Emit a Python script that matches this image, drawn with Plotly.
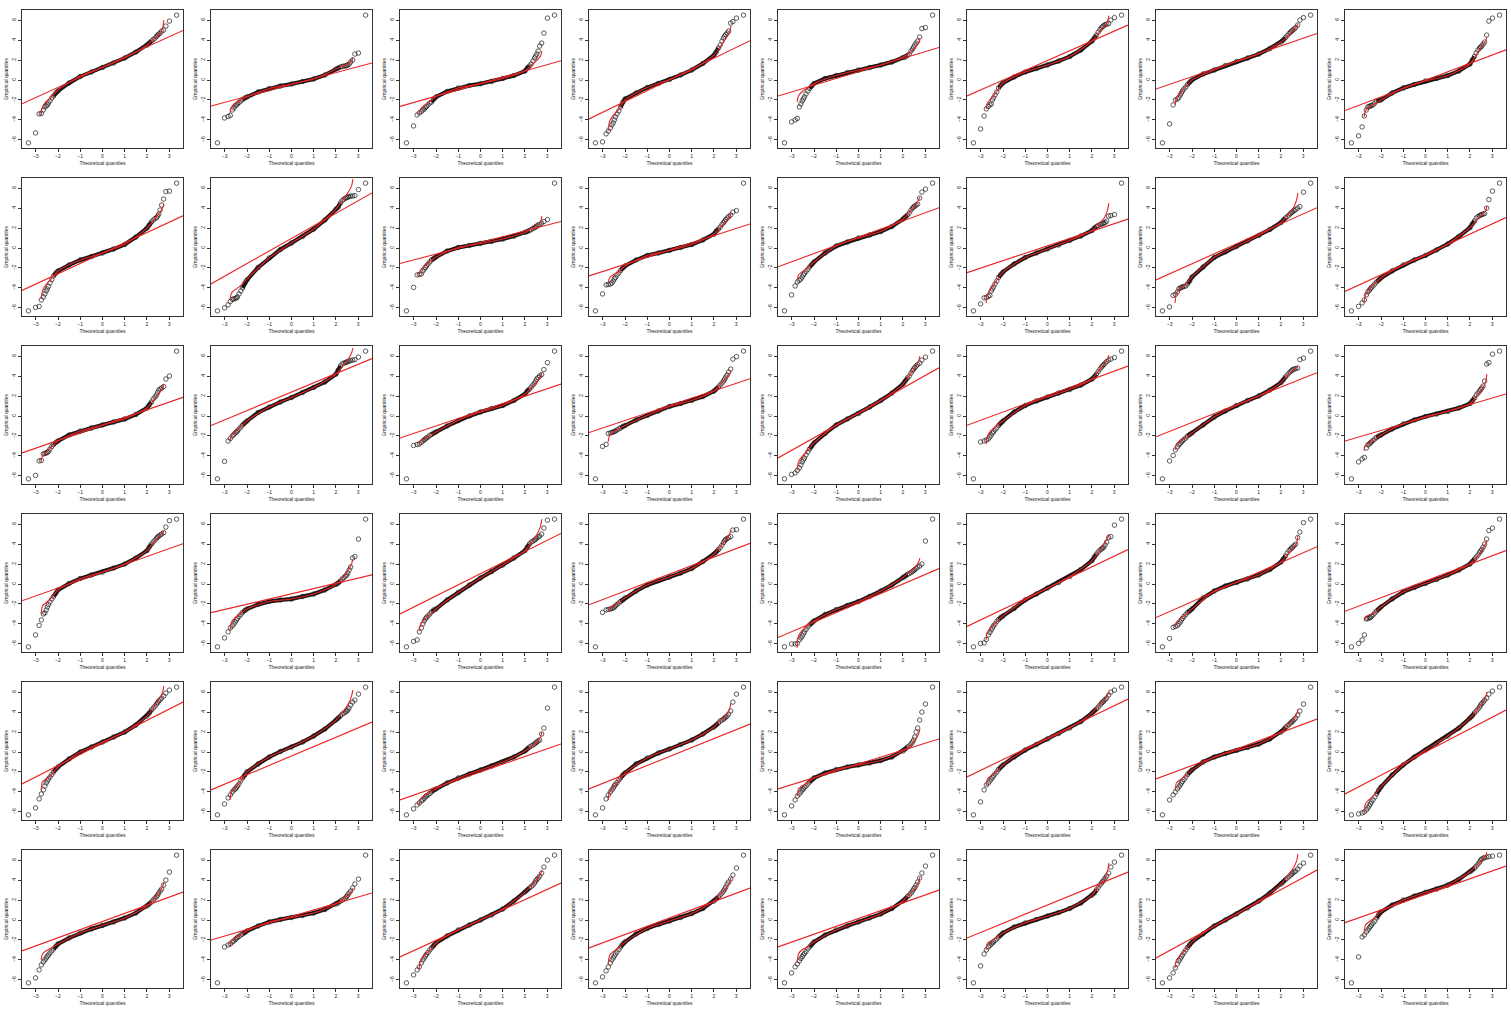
import plotly.graph_objects as go

# Theoretical normal quantiles shared by every panel (tails, body, tails)
theo_q = [-3.33, -3.01, -2.85, -2.75, -2.66, -2.59, -2.53, -2.48, -2.43, -2.36, -2.28, -2.2, -2.1,
          -2.0, -1.5, -1.0, -0.5, 0.0, 0.5, 1.0, 1.5, 2.0,
          2.1, 2.2, 2.28, 2.36, 2.43, 2.48, 2.53, 2.59, 2.66, 2.75, 2.85, 3.01, 3.33]
# abscissae of the fitted-distribution quantile curve
fit_q = [-2.76, -2.7, -2.55, -2.3, -2.0, -1.0, 0.0, 1.0, 2.0, 2.3, 2.55, 2.7, 2.76]
# abscissae of the reference (qqline) end points
ref_q = [-3.62, 3.62]
x_ticks = [-3, -2, -1, 0, 1, 2, 3]

s01_q = [-6.3,-5.3,-3.4,-3.35,-3.0,-2.7,-2.6,-2.5,-2.3,-2.1,-1.8,-1.6,-1.3, -1.1,-0.3,0.35,0.8,1.25,1.7,2.2,2.8,3.5, 3.7,3.9,4.05,4.2,4.35,4.5,4.6,4.7,4.9,5.0,5.4,5.9,6.5]
s01_fit = [-3.5,-2.7,-2.2,-1.7,-1.0,0.4,1.25,2.2,3.5,4.1,4.6,5.2,6.0]
s01_ref = [-2.38, 4.96]
s02_q = [-6.3,-3.8,-3.65,-3.55,-3.0,-2.8,-2.6,-2.5,-2.4,-2.25,-2.1,-1.95,-1.8, -1.7,-1.2,-0.85,-0.6,-0.4,-0.15,0.1,0.5,1.1, 1.2,1.3,1.35,1.4,1.4,1.45,1.5,1.6,1.8,2.0,2.6,2.7,6.5]
s02_fit = [-3.3,-2.7,-2.35,-2.05,-1.7,-0.85,-0.4,0.1,1.1,1.4,1.6,1.9,2.3]
s02_ref = [-2.6, 1.7]
s03_q = [-6.3,-4.6,-3.5,-3.3,-3.15,-3.0,-2.9,-2.75,-2.65,-2.5,-2.3,-2.2,-1.9, -1.7,-1.15,-0.8,-0.55,-0.37,-0.15,0.15,0.45,0.9, 1.2,1.4,1.6,1.9,2.2,2.4,2.6,2.9,3.4,3.7,4.7,6.2,6.5]
s03_fit = [-3.4,-2.9,-2.6,-2.2,-1.65,-0.8,-0.37,0.15,0.9,1.5,2.0,2.4,2.9]
s03_ref = [-2.64, 1.93]
s04_q = [-6.3,-6.2,-5.4,-5.1,-4.8,-4.5,-4.3,-4.0,-3.7,-3.4,-3.1,-2.7,-2.2, -1.9,-1.3,-0.75,-0.35,0.05,0.5,1.0,1.65,2.5, 2.8,3.2,3.5,3.9,4.2,4.4,4.55,4.7,4.9,5.7,5.85,6.2,6.5]
s04_fit = [-5.1,-4.2,-3.6,-3.0,-2.0,-0.75,0.05,1.0,2.5,3.4,4.2,4.8,5.4]
s04_ref = [-3.9, 3.94]
s05_q = [-6.3,-4.2,-4.0,-3.85,-2.7,-2.4,-2.1,-1.9,-1.7,-1.4,-1.1,-0.85,-0.6, -0.35,0.15,0.45,0.75,1.0,1.25,1.5,1.8,2.25, 2.3,2.45,2.6,2.9,3.1,3.3,3.5,3.7,3.9,4.3,5.15,5.25,6.5]
s05_fit = [-2.2,-1.6,-1.2,-0.8,-0.35,0.45,1.0,1.5,2.3,2.7,3.3,3.7,4.2]
s05_ref = [-1.6, 3.25]
s06_q = [-6.3,-4.9,-3.6,-2.9,-2.65,-2.5,-2.4,-2.0,-1.8,-1.5,-1.2,-0.8,-0.5, -0.3,0.3,0.8,1.15,1.5,1.9,2.35,3.0,3.9, 4.2,4.5,4.8,5.05,5.25,5.35,5.45,5.55,5.6,5.65,6.0,6.25,6.5]
s06_fit = [-2.9,-2.3,-1.9,-1.2,-0.3,0.8,1.5,2.35,3.9,4.7,5.35,5.9,6.45]
s06_ref = [-1.6, 5.5]
s07_q = [-6.3,-4.4,-2.5,-2.0,-1.9,-1.75,-1.5,-1.3,-1.1,-0.9,-0.7,-0.45,-0.2, 0.0,0.6,1.0,1.45,1.85,2.2,2.6,3.15,3.8, 4.0,4.25,4.45,4.65,4.8,4.9,5.0,5.1,5.25,5.5,6.0,6.25,6.5]
s07_fit = [-2.5,-1.8,-1.4,-0.7,0.0,1.0,1.85,2.6,3.8,4.4,5.0,5.4,5.6]
s07_ref = [-0.9, 4.66]
s08_q = [-6.3,-5.6,-4.7,-3.6,-3.0,-2.7,-2.65,-2.6,-2.55,-2.5,-2.3,-2.1,-2.05, -2.0,-1.3,-0.8,-0.45,-0.1,0.15,0.45,0.9,1.6, 2.0,2.35,2.7,3.0,3.2,3.3,3.4,3.6,3.8,4.5,5.9,6.2,6.5]
s08_fit = [-3.7,-3.1,-2.7,-2.4,-2.0,-0.8,-0.1,0.45,1.6,2.6,3.4,3.9,4.3]
s08_ref = [-3.06, 3.02]

s09_q = [-6.3,-5.95,-5.85,-5.2,-4.9,-4.6,-4.3,-4.1,-3.85,-3.5,-3.15,-2.8,-2.5, -2.3,-1.7,-1.2,-0.85,-0.5,-0.1,0.35,1.1,2.0, 2.3,2.6,2.8,2.95,3.05,3.2,3.4,3.8,4.3,4.9,5.65,5.7,6.5]
s09_fit = [-5.1,-4.3,-3.7,-3.1,-2.3,-1.2,-0.5,0.35,2.0,2.8,3.5,4.0,4.4]
s09_ref = [-4.25, 3.22]
s10_q = [-6.3,-6.0,-5.7,-5.35,-5.15,-5.1,-5.05,-5.0,-4.9,-4.6,-4.3,-4.0,-3.5, -3.2,-1.95,-1.0,-0.15,0.5,1.15,1.9,2.8,3.9, 4.1,4.5,4.75,4.9,5.0,5.05,5.1,5.15,5.2,5.2,5.25,5.85,6.5]
s10_fit = [-5.2,-4.5,-4.2,-3.8,-3.1,-1.0,0.5,1.9,3.9,4.8,5.6,6.2,6.9]
s10_ref = [-3.6, 5.52]
s11_q = [-6.3,-3.95,-2.7,-2.65,-2.6,-2.3,-2.1,-1.95,-1.8,-1.6,-1.4,-1.2,-1.05, -0.9,-0.3,0.05,0.25,0.45,0.65,0.9,1.2,1.55, 1.65,1.75,1.85,1.95,2.05,2.1,2.2,2.3,2.35,2.5,2.65,2.85,6.5]
s11_fit = [-2.8,-2.2,-1.85,-1.4,-0.9,0.05,0.45,0.9,1.55,1.9,2.2,2.6,3.2]
s11_ref = [-1.55, 2.66]
s12_q = [-6.3,-4.6,-3.7,-3.65,-3.6,-3.5,-3.3,-3.1,-2.95,-2.7,-2.5,-2.25,-2.0, -1.8,-1.2,-0.75,-0.5,-0.25,0.05,0.35,0.8,1.4, 1.7,1.9,2.1,2.35,2.55,2.7,2.85,3.0,3.15,3.3,3.6,3.75,6.5]
s12_fit = [-3.5,-3.0,-2.7,-2.4,-1.8,-0.75,-0.25,0.35,1.4,2.1,2.7,3.1,3.5]
s12_ref = [-2.8, 2.4]
s13_q = [-6.3,-4.7,-3.8,-3.4,-3.25,-3.1,-2.9,-2.7,-2.55,-2.35,-2.15,-1.9,-1.65, -1.4,-0.5,0.2,0.6,1.0,1.3,1.65,2.15,2.9, 3.1,3.3,3.5,3.8,4.0,4.1,4.2,4.3,4.4,5.0,5.6,5.9,6.5]
s13_fit = [-3.2,-2.7,-2.4,-2.0,-1.4,0.2,1.0,1.65,2.9,3.6,4.3,4.8,5.1]
s13_ref = [-1.88, 4.04]
s14_q = [-6.3,-5.6,-5.0,-4.95,-4.85,-4.75,-4.3,-4.1,-3.9,-3.6,-3.3,-2.95,-2.65, -2.4,-1.6,-0.95,-0.5,-0.1,0.3,0.75,1.2,1.75, 2.0,2.15,2.25,2.35,2.4,2.45,2.5,2.55,2.7,3.2,3.25,3.35,6.5]
s14_fit = [-5.5,-4.6,-4.1,-3.3,-2.4,-0.95,-0.1,0.75,1.75,2.4,3.0,3.8,4.5]
s14_ref = [-2.47, 2.9]
s15_q = [-6.3,-5.9,-4.75,-4.65,-4.4,-4.1,-4.0,-3.95,-3.9,-3.85,-3.8,-3.6,-3.3, -2.9,-1.9,-0.95,-0.4,0.15,0.7,1.25,1.85,2.55, 2.8,3.0,3.15,3.3,3.45,3.55,3.65,3.75,3.85,4.0,4.15,5.6,6.5]
s15_fit = [-5.5,-4.5,-4.1,-3.7,-2.9,-0.95,0.15,1.25,2.55,3.3,4.0,4.8,5.5]
s15_ref = [-3.2, 4.04]
s16_q = [-6.3,-5.85,-5.5,-5.2,-4.7,-4.4,-4.25,-4.1,-3.95,-3.8,-3.6,-3.4,-3.2, -3.0,-2.3,-1.7,-1.2,-0.75,-0.2,0.4,1.15,2.05, 2.4,2.7,3.0,3.15,3.25,3.3,3.35,3.4,3.45,4.0,4.85,5.7,6.5]
s16_fit = [-5.5,-4.7,-4.2,-3.6,-3.0,-1.7,-0.75,0.4,2.05,2.8,3.4,3.7,4.2]
s16_ref = [-4.35, 3.05]

s17_q = [-6.3,-5.95,-4.5,-4.45,-3.8,-3.75,-3.7,-3.65,-3.55,-3.3,-3.05,-2.85,-2.65, -2.5,-1.9,-1.5,-1.2,-0.9,-0.6,-0.3,0.15,0.8, 1.1,1.4,1.7,1.9,2.1,2.35,2.6,2.7,2.8,2.95,3.7,4.0,6.5]
s17_fit = [-4.5,-4.0,-3.7,-3.1,-2.5,-1.5,-0.9,-0.3,0.8,1.6,2.3,2.8,3.2]
s17_ref = [-3.7, 1.87]
s18_q = [-6.3,-4.55,-2.5,-2.25,-2.0,-1.85,-1.7,-1.6,-1.5,-1.3,-1.1,-0.9,-0.7, -0.5,0.35,0.9,1.4,1.85,2.35,2.85,3.4,4.2, 4.6,5.0,5.2,5.3,5.35,5.4,5.45,5.5,5.55,5.6,5.65,5.9,6.5]
s18_fit = [-2.5,-1.9,-1.6,-1.1,-0.5,0.9,1.85,2.85,4.2,5.0,5.7,6.3,6.8]
s18_ref = [-0.96, 5.75]
s19_q = [-6.3,-2.95,-2.85,-2.8,-2.65,-2.5,-2.4,-2.3,-2.2,-2.1,-1.95,-1.85,-1.7, -1.6,-1.0,-0.45,0.0,0.4,0.75,1.05,1.55,2.2, 2.5,2.7,2.9,3.1,3.3,3.5,3.7,3.85,4.0,4.15,4.65,5.35,6.5]
s19_fit = [-2.9,-2.5,-2.3,-2.0,-1.6,-0.45,0.4,1.05,2.2,2.9,3.5,4.0,4.3]
s19_ref = [-2.2, 3.2]
s20_q = [-6.3,-3.05,-2.85,-1.75,-1.7,-1.65,-1.6,-1.55,-1.5,-1.4,-1.3,-1.2,-1.05, -0.95,-0.4,0.05,0.5,0.95,1.25,1.55,1.95,2.5, 2.7,2.9,3.1,3.3,3.5,3.7,3.9,4.1,4.4,4.7,5.7,5.95,6.5]
s20_fit = [-2.6,-2.0,-1.7,-1.3,-0.95,0.05,0.95,1.55,2.5,3.2,3.8,4.2,4.5]
s20_ref = [-1.65, 3.74]
s21_q = [-6.3,-5.85,-5.7,-5.45,-5.2,-4.9,-4.6,-4.4,-4.2,-3.9,-3.6,-3.3,-3.0, -2.7,-1.75,-0.9,-0.3,0.25,0.9,1.55,2.3,3.2, 3.5,3.8,4.0,4.3,4.55,4.7,4.85,5.0,5.15,5.3,5.6,5.9,6.5]
s21_fit = [-5.4,-4.6,-4.1,-3.5,-2.7,-0.9,0.25,1.55,3.2,4.1,4.9,5.5,6.0]
s21_ref = [-4.2, 4.83]
s22_q = [-6.3,-2.6,-2.5,-2.4,-2.3,-2.1,-1.9,-1.7,-1.6,-1.4,-1.2,-0.95,-0.7, -0.5,0.4,1.05,1.5,1.9,2.3,2.65,3.1,3.7, 3.9,4.2,4.45,4.7,4.9,5.05,5.15,5.3,5.45,5.6,5.7,5.85,6.5]
s22_fit = [-2.8,-2.0,-1.5,-1.0,-0.5,1.05,1.9,2.65,3.7,4.5,5.2,5.7,6.1]
s22_ref = [-0.93, 5.0]
s23_q = [-6.3,-4.5,-3.95,-3.4,-3.1,-2.9,-2.75,-2.6,-2.5,-2.35,-2.2,-2.0,-1.85, -1.7,-0.9,-0.1,0.5,1.05,1.55,2.0,2.6,3.35, 3.6,3.9,4.1,4.3,4.45,4.55,4.65,4.7,4.75,4.8,5.65,5.8,6.5]
s23_fit = [-3.4,-2.8,-2.5,-2.2,-1.7,-0.1,1.05,2.0,3.35,4.1,4.6,4.9,5.0]
s23_ref = [-2.08, 4.34]
s24_q = [-6.3,-4.6,-4.3,-4.15,-3.2,-2.9,-2.8,-2.7,-2.6,-2.45,-2.3,-2.15,-2.0, -1.9,-1.3,-0.8,-0.4,-0.05,0.2,0.45,0.8,1.25, 1.5,1.8,2.1,2.3,2.5,2.65,2.8,3.0,3.5,5.2,5.35,6.2,6.5]
s24_fit = [-3.5,-2.9,-2.7,-2.4,-1.9,-0.8,-0.05,0.45,1.25,2.0,2.7,3.4,4.2]
s24_ref = [-2.5, 2.2]

s25_q = [-6.3,-5.1,-4.15,-3.6,-3.0,-2.9,-2.6,-2.3,-2.05,-1.8,-1.5,-1.25,-0.95, -0.6,0.05,0.55,0.9,1.2,1.6,2.0,2.6,3.35, 3.7,4.0,4.2,4.4,4.6,4.7,4.8,4.9,5.0,5.15,5.7,6.35,6.5]
s25_fit = [-3.0,-2.2,-1.9,-1.4,-0.6,0.55,1.2,2.0,3.35,4.2,4.8,5.1,5.3]
s25_ref = [-1.68, 4.04]
s26_q = [-6.3,-5.4,-4.8,-4.4,-4.2,-4.0,-3.8,-3.6,-3.45,-3.25,-3.05,-2.85,-2.65, -2.5,-2.05,-1.75,-1.6,-1.5,-1.25,-1.0,-0.6,-0.05, 0.1,0.3,0.5,0.65,0.8,0.9,1.1,1.4,1.7,2.6,2.75,4.5,6.5]
s26_fit = [-4.6,-3.8,-3.4,-3.0,-2.5,-1.75,-1.5,-1.0,-0.05,0.6,1.4,2.0,2.5]
s26_ref = [-2.87, 0.91]
s27_q = [-6.3,-5.75,-5.6,-4.8,-4.4,-4.0,-3.7,-3.5,-3.35,-3.2,-3.0,-2.8,-2.6, -2.5,-1.6,-0.85,-0.1,0.6,1.25,1.9,2.6,3.35, 3.7,4.0,4.2,4.3,4.4,4.5,4.6,4.7,4.8,5.0,5.6,6.4,6.5]
s27_fit = [-4.7,-4.1,-3.6,-3.1,-2.5,-0.85,0.6,1.9,3.35,4.2,5.0,5.8,6.5]
s27_ref = [-3.0, 5.06]
s28_q = [-6.3,-2.85,-2.6,-2.55,-2.5,-2.45,-2.4,-2.3,-2.2,-2.05,-1.9,-1.75,-1.6, -1.4,-0.7,-0.1,0.35,0.7,1.1,1.55,2.25,3.0, 3.2,3.45,3.65,3.9,4.15,4.35,4.45,4.55,4.65,4.75,5.4,5.45,6.5]
s28_fit = [-2.8,-2.4,-2.25,-1.9,-1.4,-0.1,0.7,1.55,3.0,3.8,4.5,5.0,5.4]
s28_ref = [-2.08, 4.07]
s29_q = [-6.3,-6.0,-6.0,-5.95,-5.6,-5.4,-5.2,-5.0,-4.8,-4.55,-4.3,-4.1,-3.9, -3.7,-3.05,-2.55,-2.15,-1.75,-1.25,-0.7,-0.1,0.65, 0.8,0.95,1.05,1.15,1.25,1.35,1.45,1.55,1.7,1.8,2.0,4.3,6.5]
s29_fit = [-6.4,-5.2,-4.7,-4.2,-3.7,-2.55,-1.75,-0.7,0.65,1.2,1.7,2.2,2.6]
s29_ref = [-5.36, 1.54]
s30_q = [-6.3,-5.95,-5.9,-5.55,-5.1,-4.85,-4.6,-4.4,-4.2,-4.0,-3.75,-3.55,-3.35, -3.2,-2.45,-1.6,-1.0,-0.4,0.15,0.75,1.45,2.35, 2.7,3.0,3.2,3.4,3.5,3.6,3.7,3.9,4.2,4.65,4.75,5.9,6.5]
s30_fit = [-5.6,-4.8,-4.4,-3.8,-3.2,-1.6,-0.4,0.75,2.35,3.2,4.0,4.6,5.0]
s30_ref = [-4.25, 3.45]
s31_q = [-6.3,-5.45,-4.35,-4.25,-4.15,-4.0,-3.8,-3.6,-3.45,-3.25,-3.05,-2.85,-2.7, -2.5,-1.4,-0.7,-0.2,0.15,0.5,0.9,1.45,2.2, 2.5,2.8,3.1,3.35,3.5,3.6,3.7,3.85,4.0,4.65,5.2,6.15,6.5]
s31_fit = [-4.3,-3.8,-3.5,-3.1,-2.5,-0.7,0.15,0.9,2.2,3.0,3.6,4.1,4.8]
s31_ref = [-3.36, 3.74]
s32_q = [-6.3,-5.95,-5.6,-5.1,-3.5,-3.45,-3.4,-3.35,-3.25,-3.1,-2.9,-2.7,-2.5, -2.3,-1.5,-0.8,-0.35,0.05,0.45,0.9,1.4,2.0, 2.25,2.5,2.7,2.9,3.15,3.3,3.45,3.7,4.0,4.5,5.35,5.6,6.5]
s32_fit = [-3.7,-3.3,-3.1,-2.9,-2.3,-0.8,0.05,0.9,2.0,2.7,3.4,4.0,4.4]
s32_ref = [-2.74, 3.35]

s33_q = [-6.3,-5.6,-4.7,-4.2,-3.8,-3.4,-3.1,-2.9,-2.7,-2.5,-2.25,-2.0,-1.7, -1.5,-0.7,0.0,0.5,1.0,1.5,2.0,2.7,3.6, 3.9,4.2,4.4,4.6,4.8,4.95,5.1,5.25,5.4,5.6,5.9,6.2,6.5]
s33_fit = [-3.8,-3.0,-2.7,-2.3,-1.5,0.0,1.0,2.0,3.6,4.5,5.3,6.0,6.6]
s33_ref = [-3.2, 5.0]
s34_q = [-6.3,-5.2,-4.6,-4.3,-4.0,-3.8,-3.7,-3.6,-3.4,-3.2,-2.9,-2.6,-2.3, -2.0,-1.2,-0.5,0.05,0.5,1.0,1.6,2.3,3.2, 3.4,3.6,3.8,3.9,4.0,4.1,4.2,4.4,4.7,5.0,5.2,5.8,6.5]
s34_fit = [-4.8,-4.0,-3.6,-3.0,-2.0,-0.5,0.5,1.6,3.2,4.0,4.8,5.6,6.2]
s34_ref = [-3.8, 3.0]
s35_q = [-6.3,-5.7,-5.3,-5.1,-4.9,-4.8,-4.65,-4.5,-4.4,-4.3,-4.15,-4.0,-3.8, -3.7,-3.1,-2.6,-2.2,-1.8,-1.4,-1.0,-0.5,0.1, 0.3,0.5,0.6,0.7,0.8,0.9,1.0,1.1,1.2,1.8,2.4,4.4,6.5]
s35_fit = [-5.4,-4.7,-4.4,-4.1,-3.7,-2.6,-1.8,-1.0,0.1,0.6,1.0,1.5,2.0]
s35_ref = [-4.8, 0.8]
s36_q = [-6.3,-5.6,-4.7,-4.3,-4.0,-3.8,-3.6,-3.4,-3.25,-3.05,-2.8,-2.6,-2.3, -2.1,-1.2,-0.6,-0.1,0.3,0.75,1.2,1.8,2.5, 2.7,2.9,3.1,3.2,3.3,3.4,3.5,3.6,3.8,4.1,5.0,5.8,6.5]
s36_fit = [-4.8,-4.0,-3.6,-3.0,-2.1,-0.6,0.3,1.2,2.5,3.2,3.7,4.3,4.9]
s36_ref = [-3.7, 2.8]
s37_q = [-6.3,-5.4,-4.8,-4.4,-4.2,-4.0,-3.8,-3.7,-3.55,-3.4,-3.2,-3.0,-2.8, -2.6,-2.1,-1.75,-1.5,-1.3,-1.1,-0.85,-0.5,0.1, 0.3,0.5,0.6,0.8,1.0,1.2,1.5,2.0,2.4,3.2,4.0,4.8,6.5]
s37_fit = [-4.4,-3.7,-3.4,-3.1,-2.6,-1.75,-1.3,-0.85,0.1,0.6,1.2,1.8,2.3]
s37_ref = [-3.7, 1.3]
s38_q = [-6.3,-5.0,-3.8,-3.3,-3.1,-2.9,-2.7,-2.55,-2.4,-2.2,-2.0,-1.75,-1.5, -1.3,-0.5,0.2,0.75,1.3,1.85,2.4,3.05,3.9, 4.1,4.3,4.5,4.7,4.9,5.0,5.1,5.25,5.4,5.7,6.0,6.2,6.5]
s38_fit = [-3.4,-2.7,-2.4,-2.0,-1.3,0.2,1.3,2.4,3.9,4.6,5.2,5.7,6.1]
s38_ref = [-2.5, 5.3]
s39_q = [-6.3,-4.8,-4.3,-4.0,-3.7,-3.5,-3.3,-3.1,-2.95,-2.75,-2.5,-2.25,-2.0, -1.8,-1.0,-0.5,-0.15,0.15,0.45,0.8,1.3,2.0, 2.2,2.45,2.6,2.75,2.9,3.0,3.1,3.25,3.4,3.7,4.1,4.8,6.5]
s39_fit = [-3.8,-3.1,-2.8,-2.4,-1.8,-0.5,0.15,0.8,2.0,2.7,3.3,3.8,4.3]
s39_ref = [-2.7, 3.3]
s40_q = [-6.3,-6.2,-6.1,-6.0,-5.8,-5.6,-5.4,-5.2,-5.0,-4.8,-4.5,-4.2,-3.8, -3.5,-2.3,-1.3,-0.5,0.2,0.9,1.6,2.4,3.4, 3.6,3.9,4.1,4.3,4.5,4.7,4.85,5.0,5.2,5.4,5.8,6.1,6.5]
s40_fit = [-6.0,-5.2,-4.8,-4.3,-3.5,-1.3,0.2,1.6,3.4,4.2,4.9,5.5,6.0]
s40_ref = [-4.2, 4.2]

s41_q = [-6.3,-5.8,-5.0,-4.5,-4.2,-4.0,-3.8,-3.65,-3.5,-3.3,-3.1,-2.9,-2.65, -2.4,-1.8,-1.3,-0.9,-0.55,-0.2,0.2,0.7,1.4, 1.6,1.8,2.0,2.2,2.35,2.5,2.7,2.9,3.1,3.5,4.0,4.8,6.5]
s41_fit = [-4.0,-3.4,-3.1,-2.8,-2.4,-1.3,-0.55,0.2,1.4,2.1,2.8,3.3,3.8]
s41_ref = [-3.1, 2.8]
s42_q = [-6.3,-2.7,-2.5,-2.4,-2.2,-2.1,-1.95,-1.85,-1.75,-1.65,-1.5,-1.4,-1.25, -1.1,-0.6,-0.2,0.05,0.25,0.45,0.7,1.05,1.6, 1.7,1.9,2.0,2.1,2.2,2.35,2.5,2.7,2.9,3.2,3.6,4.1,6.5]
s42_fit = [-2.7,-2.1,-1.8,-1.5,-1.1,-0.2,0.25,0.7,1.6,2.1,2.5,2.8,3.2]
s42_ref = [-2.0, 2.7]
s43_q = [-6.3,-5.5,-5.0,-4.7,-4.3,-4.0,-3.8,-3.6,-3.45,-3.25,-3.0,-2.8,-2.55, -2.3,-1.6,-1.0,-0.5,0.0,0.5,1.1,1.9,2.8, 3.0,3.2,3.35,3.5,3.7,3.9,4.05,4.2,4.4,4.7,5.3,6.0,6.5]
s43_fit = [-5.0,-4.1,-3.6,-3.1,-2.3,-1.0,0.0,1.1,2.8,3.5,4.1,4.6,5.0]
s43_ref = [-3.7, 3.7]
s44_q = [-6.3,-5.7,-5.1,-4.7,-4.3,-4.0,-3.8,-3.6,-3.4,-3.2,-2.95,-2.7,-2.4, -2.2,-1.4,-0.85,-0.45,-0.1,0.25,0.65,1.15,1.9, 2.1,2.3,2.5,2.7,2.9,3.1,3.3,3.6,3.8,4.1,4.5,5.2,6.5]
s44_fit = [-4.5,-3.6,-3.2,-2.8,-2.2,-0.85,-0.1,0.65,1.9,2.6,3.2,3.7,4.2]
s44_ref = [-2.8, 3.2]
s45_q = [-6.3,-5.3,-4.7,-4.4,-4.1,-3.85,-3.65,-3.5,-3.35,-3.15,-2.9,-2.7,-2.45, -2.2,-1.5,-1.0,-0.6,-0.2,0.2,0.6,1.15,1.9, 2.1,2.35,2.5,2.7,2.9,3.1,3.25,3.5,3.8,4.2,4.7,5.4,6.5]
s45_fit = [-4.3,-3.4,-3.0,-2.7,-2.2,-1.0,-0.2,0.6,1.9,2.6,3.2,3.8,4.3]
s45_ref = [-2.7, 3.0]
s46_q = [-6.3,-4.6,-3.4,-3.0,-2.7,-2.55,-2.4,-2.3,-2.2,-2.05,-1.9,-1.7,-1.5, -1.3,-0.7,-0.3,0.05,0.4,0.75,1.15,1.7,2.5, 2.7,3.0,3.25,3.5,3.7,3.85,4.0,4.2,4.4,4.7,5.3,5.8,6.5]
s46_fit = [-3.0,-2.3,-2.1,-1.8,-1.3,-0.3,0.4,1.15,2.5,3.4,4.1,4.9,5.7]
s46_ref = [-1.8, 4.8]
s47_q = [-6.3,-5.8,-5.3,-4.8,-4.4,-4.1,-3.9,-3.7,-3.5,-3.25,-3.0,-2.75,-2.45, -2.2,-1.4,-0.6,0.0,0.6,1.2,1.9,2.7,3.6, 3.8,4.05,4.2,4.35,4.5,4.6,4.7,4.8,4.9,5.1,5.4,5.7,6.5]
s47_fit = [-4.8,-4.0,-3.6,-3.0,-2.2,-0.6,0.6,1.9,3.6,4.4,5.2,5.9,6.6]
s47_ref = [-3.8, 5.0]
s48_q = [-6.3,-3.7,-1.7,-1.5,-1.2,-1.0,-0.8,-0.65,-0.5,-0.3,-0.1,0.2,0.6, 0.8,1.5,2.0,2.4,2.77,3.1,3.5,4.07,4.83, 5.0,5.2,5.4,5.6,5.8,6.0,6.1,6.2,6.25,6.3,6.35,6.4,6.5]
s48_fit = [-1.3,-0.5,-0.2,0.2,0.8,2.0,2.77,3.5,4.83,5.5,6.0,6.4,6.8]
s48_ref = [-0.27, 5.4]

panels = [
    (s01_q, s01_fit, s01_ref), (s02_q, s02_fit, s02_ref), (s03_q, s03_fit, s03_ref), (s04_q, s04_fit, s04_ref),
    (s05_q, s05_fit, s05_ref), (s06_q, s06_fit, s06_ref), (s07_q, s07_fit, s07_ref), (s08_q, s08_fit, s08_ref),
    (s09_q, s09_fit, s09_ref), (s10_q, s10_fit, s10_ref), (s11_q, s11_fit, s11_ref), (s12_q, s12_fit, s12_ref),
    (s13_q, s13_fit, s13_ref), (s14_q, s14_fit, s14_ref), (s15_q, s15_fit, s15_ref), (s16_q, s16_fit, s16_ref),
    (s17_q, s17_fit, s17_ref), (s18_q, s18_fit, s18_ref), (s19_q, s19_fit, s19_ref), (s20_q, s20_fit, s20_ref),
    (s21_q, s21_fit, s21_ref), (s22_q, s22_fit, s22_ref), (s23_q, s23_fit, s23_ref), (s24_q, s24_fit, s24_ref),
    (s25_q, s25_fit, s25_ref), (s26_q, s26_fit, s26_ref), (s27_q, s27_fit, s27_ref), (s28_q, s28_fit, s28_ref),
    (s29_q, s29_fit, s29_ref), (s30_q, s30_fit, s30_ref), (s31_q, s31_fit, s31_ref), (s32_q, s32_fit, s32_ref),
    (s33_q, s33_fit, s33_ref), (s34_q, s34_fit, s34_ref), (s35_q, s35_fit, s35_ref), (s36_q, s36_fit, s36_ref),
    (s37_q, s37_fit, s37_ref), (s38_q, s38_fit, s38_ref), (s39_q, s39_fit, s39_ref), (s40_q, s40_fit, s40_ref),
    (s41_q, s41_fit, s41_ref), (s42_q, s42_fit, s42_ref), (s43_q, s43_fit, s43_ref), (s44_q, s44_fit, s44_ref),
    (s45_q, s45_fit, s45_ref), (s46_q, s46_fit, s46_ref), (s47_q, s47_fit, s47_ref), (s48_q, s48_fit, s48_ref),
]

W, H = 1511, 1010
N_COLS, N_ROWS = 8, 6
BOX_LEFT, BOX_TOP = 22, 10
BOX_W, BOX_H = 161, 138
STEP_X, STEP_Y = 189, 168
BODY = slice(11, 24)   # dense centre of the sample, drawn as a solid band

RED = "rgb(235,35,35)"
INK = "#1a1a1a"
FONT = "Liberation Sans, Arial, sans-serif"

fig = go.Figure()
layout = {}

for i, (emp, fit, ref) in enumerate(panels):
    r, c = divmod(i, N_COLS)
    n = "" if i == 0 else str(i + 1)
    xa, ya = "x" + n, "y" + n

    # dense body of the sample
    fig.add_trace(go.Scatter(
        x=theo_q[BODY], y=emp[BODY], xaxis=xa, yaxis=ya, mode="lines",
        line=dict(color="rgba(10,10,10,0.95)", width=4), hoverinfo="skip", showlegend=False))
    # every sample quantile as an open circle
    fig.add_trace(go.Scatter(
        x=theo_q, y=emp, xaxis=xa, yaxis=ya, mode="markers",
        marker=dict(symbol="circle-open", size=4.5, color=INK, line=dict(width=0.7)),
        showlegend=False))
    # normal reference line
    fig.add_trace(go.Scatter(
        x=ref_q, y=ref, xaxis=xa, yaxis=ya, mode="lines",
        line=dict(color=RED, width=1.1), hoverinfo="skip", showlegend=False))
    # fitted heavy-tailed quantile curve
    fig.add_trace(go.Scatter(
        x=fit_q, y=fit, xaxis=xa, yaxis=ya, mode="lines",
        line=dict(color=RED, width=1.1, shape="spline", smoothing=0.7),
        hoverinfo="skip", showlegend=False))

    left = BOX_LEFT + c * STEP_X
    top = BOX_TOP + r * STEP_Y
    lo, hi = min(emp), max(emp)
    pad = 0.04 * (hi - lo)

    common = dict(
        showline=True, mirror=True, linecolor="#333", linewidth=1,
        ticks="outside", ticklen=3, tickwidth=0.7, tickcolor="#333",
        showgrid=False, zeroline=False,
        tickfont=dict(size=5, color="#222", family=FONT),
    )
    layout["xaxis" + n] = dict(
        common, domain=[left / W, (left + BOX_W) / W], anchor=ya,
        range=[ref_q[0], ref_q[1]], tickmode="array", tickvals=x_ticks,
        title=dict(text="Theoretical quantiles", font=dict(size=5, color="#222", family=FONT), standoff=3),
    )
    layout["yaxis" + n] = dict(
        common, domain=[1 - (top + BOX_H) / H, 1 - top / H], anchor=xa,
        range=[lo - pad, hi + pad], dtick=2, tickangle=-90,
        title=dict(text="Empirical quantiles", font=dict(size=5, color="#222", family=FONT), standoff=2),
    )

fig.update_layout(
    width=W, height=H, autosize=False,
    margin=dict(l=0, r=0, t=0, b=0),
    paper_bgcolor="white", plot_bgcolor="white",
    showlegend=False,
    **layout,
)

fig.write_html("out.html")
